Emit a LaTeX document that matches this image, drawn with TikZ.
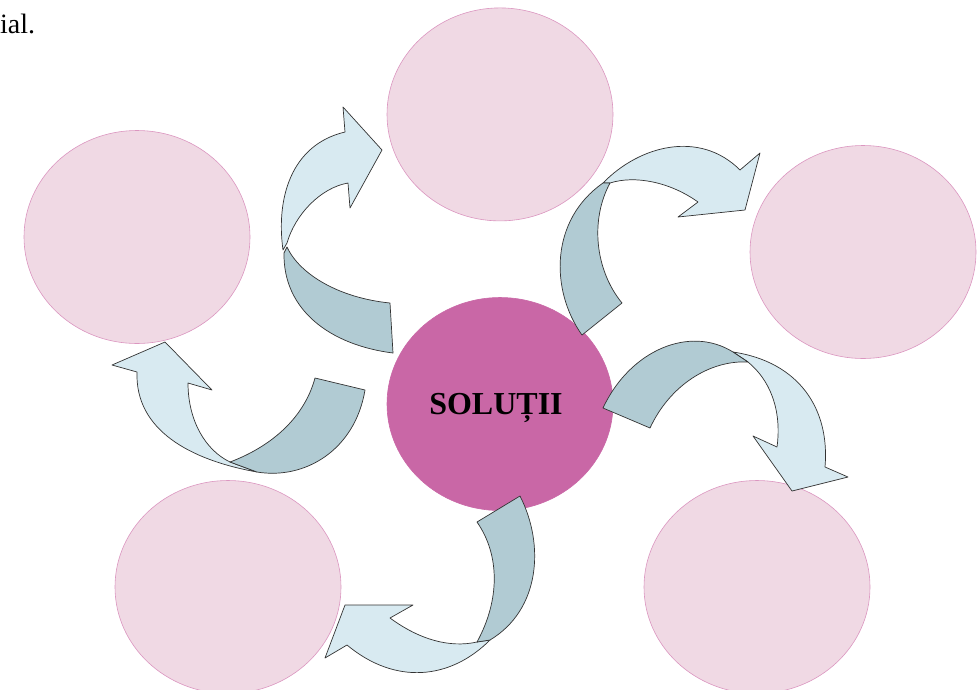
\documentclass[tikz,border=0pt]{standalone}
\usepackage{fontspec}
\setmainfont{Liberation Serif}
\usepackage{tikz}
\usetikzlibrary{shapes.geometric,positioning}
\definecolor{bubblefill}{RGB}{240,217,228}
\definecolor{bubbleline}{RGB}{219,150,192}
\definecolor{hubfill}{RGB}{201,103,166}
\definecolor{arrowlight}{RGB}{216,234,241}
\definecolor{arrowdark}{RGB}{177,203,211}
\tikzset{
  bubble/.style    = {ellipse, draw=bubbleline, fill=bubblefill, line width=0.6pt,
                      minimum width=226pt, minimum height=213pt, inner sep=0pt},
  hub/.style       = {bubble, draw=hubfill, fill=hubfill},
  frontside/.style = {fill=arrowlight, draw=black!80, line width=0.7pt, line join=round},
  backside/.style  = {frontside, fill=arrowdark},
}

\begin{document}
\begin{tikzpicture}[x=1pt, y=-1pt]
    \useasboundingbox (0,0) rectangle (979,689);

    % Page text cut off at the left
    \node[anchor=base west, inner sep=0pt, font=\fontsize{28}{32}\selectfont] (cut) at (0,33) {ial.};

    % Centre and the five empty bubbles
    \node[hub] (sol) at (500,404) {};
    \node[anchor=base, inner sep=0pt, font=\fontsize{32}{38}\selectfont\bfseries] (soltext) at (496,414) {SOLUȚII};
    \node[bubble, above=76pt of sol] (top) {};
    \node[bubble] (left) at (137,237) {};
    \node[bubble] (right) at (863,252) {};
    \node[bubble] (botleft) at (228,587) {};
    \node[bubble] (botright) at (757,587) {};

    % Arrow: centre -> top
    \filldraw[frontside] (283,250) .. controls (276,200) and (290,145) .. (345,132)
      -- (343,107) -- (382,150) -- (350,208) -- (348,183)
      .. controls (320,188) and (295,215) .. (287,243) -- cycle;
    \filldraw[backside] (393,353) .. controls (330,345) and (283,310) .. (284,253)
      -- (287,247) .. controls (300,275) and (340,298) .. (390,303) -- cycle;

    % Arrow: centre -> right
    \filldraw[frontside] (603,183) .. controls (640,145) and (700,130) .. (740,170)
      -- (760,153) -- (745,210) -- (678,217) -- (698,202)
      .. controls (670,182) and (635,175) .. (610,183) -- cycle;
    \filldraw[backside] (582,335) .. controls (550,290) and (550,220) .. (603,183)
      -- (610,183) .. controls (590,220) and (595,270) .. (622,303) -- cycle;

    % Arrow: centre -> bottom right
    \filldraw[frontside] (733,352) .. controls (800,362) and (830,410) .. (825,467)
      -- (848,477) -- (792,491) -- (753,436) -- (777,447)
      .. controls (782,410) and (770,380) .. (748,362) -- cycle;
    \filldraw[backside] (603,408) .. controls (630,350) and (690,325) .. (733,352)
      -- (748,362) .. controls (710,360) and (670,385) .. (650,428) -- cycle;

    % Arrow: centre -> left
    \filldraw[frontside] (257,472) .. controls (190,460) and (135,430) .. (137,372)
      -- (112,365) -- (165,342) -- (212,390) -- (188,383)
      .. controls (188,420) and (205,450) .. (230,462) -- cycle;
    \filldraw[backside] (365,390) .. controls (355,450) and (305,480) .. (257,472)
      -- (230,462) .. controls (275,445) and (305,415) .. (315,378) -- cycle;

    % Arrow: centre -> bottom left
    \filldraw[frontside] (490,640) .. controls (450,680) and (395,685) .. (347,645)
      -- (325,658) -- (345,605) -- (413,605) -- (390,618)
      .. controls (420,640) and (450,648) .. (477,642) -- cycle;
    \filldraw[backside] (520,496) .. controls (545,545) and (540,610) .. (490,640)
      -- (477,642) .. controls (500,600) and (500,555) .. (477,522) -- cycle;
\end{tikzpicture}
\end{document}
